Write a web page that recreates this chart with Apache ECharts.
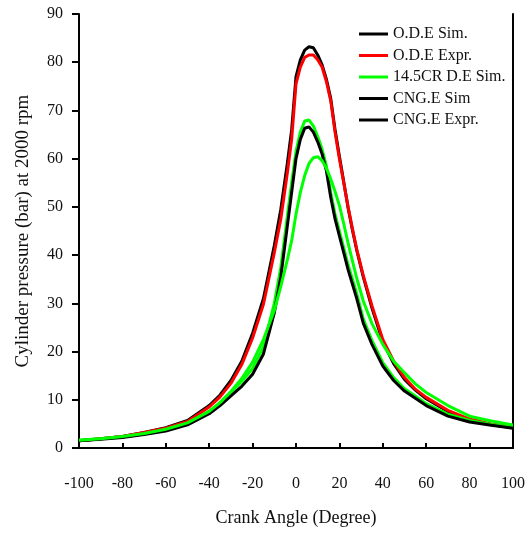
<!DOCTYPE html>
<html>
<head>
<meta charset="utf-8">
<script src="https://cdn.jsdelivr.net/npm/echarts@6/dist/echarts.min.js"></script>
<style>html,body{margin:0;padding:0;background:#fff}#c{width:531px;height:533px}</style>
</head>
<body>
<div id="c"></div>
<script>
var angles = [-100,-90,-80,-70,-60,-50,-40,-35,-30,-25,-20,-15,-10,-7,-4,-2,0,2,4,6,8,10,12,14,16,18,20,22,24,26,28,31,35,40,45,50,55,60,70,80,90,100];
var odeSim  = [1.5,1.9,2.4,3.2,4.2,5.7,8.8,11.0,14.0,18.0,23.8,31.0,42.0,49.5,59.0,66.0,77.0,80.5,82.5,83.2,83.0,81.5,79.5,76.5,72.5,66.0,60.5,55.2,49.8,45.2,41.0,35.5,29.0,22.0,17.5,14.2,12.0,10.2,7.6,5.7,4.8,4.2];
var odeExpr = [1.5,1.9,2.4,3.2,4.1,5.5,8.5,10.6,13.4,17.3,22.8,29.8,40.5,47.5,57.0,64.0,75.5,79.0,81.0,81.5,81.5,80.5,79.0,76.0,72.0,65.5,60.0,55.0,50.0,45.5,41.2,35.8,29.5,22.5,18.0,14.6,12.2,10.5,7.8,6.0,5.0,4.3];
var cr145Sim = [1.6,1.9,2.4,3.0,3.9,5.2,7.6,9.4,11.7,14.4,17.8,22.5,28.5,33.5,39.0,43.0,48.5,53.0,56.5,59.0,60.2,60.4,59.6,58.0,55.8,53.2,50.3,46.5,42.5,38.8,35.2,30.5,25.8,21.5,18.0,15.6,13.3,11.5,8.8,6.6,5.6,4.8];
var cngSim  = [1.5,1.8,2.2,2.8,3.5,4.8,7.1,8.8,10.8,12.8,15.3,19.5,28.0,35.5,46.0,53.0,60.0,64.0,66.3,66.6,65.5,63.5,61.0,57.5,52.0,47.5,44.0,40.5,37.0,34.0,31.0,25.9,21.5,17.0,14.0,11.8,10.3,8.8,6.6,5.4,4.7,4.1];
var cngExpr = [1.6,1.9,2.3,2.9,3.7,5.1,7.6,9.4,11.6,13.8,16.5,21.0,30.0,37.5,48.0,55.0,61.5,65.5,67.8,68.0,66.8,64.6,62.0,58.5,53.0,48.5,45.0,41.5,38.0,35.0,32.0,26.8,22.3,17.7,14.6,12.3,10.8,9.2,7.0,5.7,4.9,4.3];
var seriesNames = ['O.D.E Sim.','O.D.E Expr.','14.5CR D.E Sim.','CNG.E Sim','CNG.E Expr.'];
var xTicks = [-100,-80,-60,-40,-20,0,20,40,60,80,100];

function pairs(vals){ return angles.map(function(a,i){ return [a, vals[i]]; }); }
var FONT = "'Liberation Serif','Times New Roman',serif";
function line(name, vals, color, z){
  return {name:name, type:'line', data:pairs(vals), showSymbol:false, symbol:'none', smooth:false, z:z,
    lineStyle:{color:color, width:3}, itemStyle:{color:color}, animation:false};
}
var chart = echarts.init(document.getElementById('c'), null, {renderer:'canvas'});
chart.setOption({
  animation:false,
  backgroundColor:'#fff',
  grid:{left:79, right:18, top:14, bottom:85},
  legend:{
    orient:'vertical', left:354, top:21, itemWidth:29, itemHeight:3, itemGap:5.5, icon:'rect',
    textStyle:{fontFamily:FONT, fontSize:16, color:'#111', lineHeight:16},
    data:[
      {name:seriesNames[0], itemStyle:{color:'#000'}},
      {name:seriesNames[1], itemStyle:{color:'#ff0000'}},
      {name:seriesNames[2], itemStyle:{color:'#00ff00'}},
      {name:seriesNames[3], itemStyle:{color:'#000'}},
      {name:seriesNames[4], itemStyle:{color:'#000'}}
    ]
  },
  xAxis:{
    type:'value', min:-100, max:100, interval:20,
    name:'Crank Angle (Degree)', nameLocation:'middle', nameGap:61,
    nameTextStyle:{fontFamily:FONT, fontSize:18, color:'#111'},
    axisLine:{show:true, onZero:false, lineStyle:{color:'#000', width:2}},
    axisTick:{show:true, inside:true, length:5, lineStyle:{color:'#000', width:2}},
    axisLabel:{margin:28, fontFamily:FONT, fontSize:16, color:'#111',
      formatter:function(v){ return xTicks.indexOf(v) >= 0 ? String(v) : ''; }},
    splitLine:{show:false}
  },
  yAxis:[{
    type:'value', min:0, max:90, interval:10,
    name:'Cylinder pressure (bar) at 2000 rpm', nameLocation:'middle', nameGap:46,
    nameTextStyle:{fontFamily:FONT, fontSize:19, color:'#111'},
    axisLine:{show:true, onZero:false, lineStyle:{color:'#000', width:2}},
    axisTick:{show:true, inside:false, length:7, lineStyle:{color:'#000', width:2}},
    axisLabel:{margin:16, fontFamily:FONT, fontSize:16, color:'#111'},
    splitLine:{show:false}
  },{
    type:'value', min:0, max:90, interval:10, position:'right',
    axisLine:{show:true, onZero:false, lineStyle:{color:'#000', width:2}},
    axisTick:{show:false}, axisLabel:{show:false}, splitLine:{show:false}
  }],
  series:[
    line(seriesNames[0], odeSim, '#000', 2),
    line(seriesNames[1], odeExpr, '#ff0000', 3),
    line(seriesNames[4], cngExpr, '#00ff00', 4),
    line(seriesNames[3], cngSim, '#000', 5),
    line(seriesNames[2], cr145Sim, '#00ff00', 6)
  ]
});
</script>
</body>
</html>
